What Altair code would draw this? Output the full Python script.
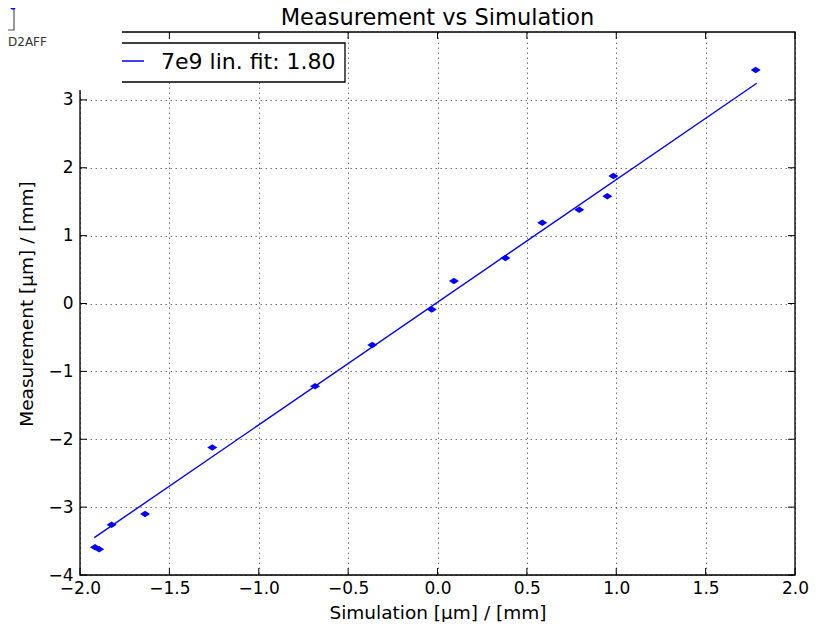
import altair as alt
import pandas as pd

# ---- data ----
sim = [-1.916, -1.893, -1.823, -1.636, -1.26, -0.685, -0.365, -0.032, 0.092, 0.38, 0.586, 0.793, 0.95, 0.984, 1.78]
meas = [-3.59, -3.62, -3.26, -3.10, -2.12, -1.22, -0.61, -0.09, 0.33, 0.67, 1.19, 1.38, 1.58, 1.88, 3.44]
fit_x = [-1.92, 1.786]
fit_y = [-3.45, 3.245]
x_ticks = [-2.0, -1.5, -1.0, -0.5, 0.0, 0.5, 1.0, 1.5, 2.0]
y_ticks = [-4, -3, -2, -1, 0, 1, 2, 3]
legend_label = "7e9 lin. fit: 1.80"
title_text = "Measurement vs Simulation"
x_title = "Simulation [μm] / [mm]"
y_title = "Measurement [μm] / [mm]"
corner_text = "D2AFF"

W, H = 715, 543
FONT = "DejaVu Sans"
BLUE = "#0000ff"
TICK = 7

xs = alt.Scale(domain=[-2, 2], nice=False, zero=False)
ys = alt.Scale(domain=[-4, 4], nice=False, zero=False)

xaxis = alt.Axis(values=x_ticks, format=".1f", labelFontSize=17, labelFont=FONT, labelColor="black",
                 labelPadding=5, labelFlush=False, labelOverlap=False, ticks=False, domain=False,
                 grid=True, gridDash=[1.5, 3.5],
                 gridColor="black", gridOpacity=0.55, gridWidth=1, title=x_title, titleFont=FONT,
                 titleFontSize=18.5, titleFontWeight="normal", titleColor="black", titlePadding=7)
yaxis = alt.Axis(values=y_ticks, format="d", labelFontSize=17, labelFont=FONT, labelColor="black",
                 labelPadding=7, labelFlush=False, labelOverlap=False, ticks=False, domain=False,
                 grid=True, gridDash=[1.5, 3.5],
                 gridColor="black", gridOpacity=0.55, gridWidth=1, title=y_title, titleFont=FONT,
                 titleFontSize=18.5, titleFontWeight="normal", titleColor="black", titlePadding=11)

X = alt.X("x:Q", scale=xs, axis=xaxis)
Y = alt.Y("y:Q", scale=ys, axis=yaxis)

pts_df = pd.DataFrame({"x": sim, "y": meas})
fit_df = pd.DataFrame({"x": fit_x, "y": fit_y})
xt_df = pd.DataFrame({"x": x_ticks})
yt_df = pd.DataFrame({"y": y_ticks})
one = pd.DataFrame({"a": [0]})

fit = alt.Chart(fit_df).mark_line(color=BLUE, strokeWidth=1.4).encode(x=X, y=Y)
pts = alt.Chart(pts_df).mark_point(
    shape="M-1,0L0,-0.65L1,0L0,0.65Z", filled=True, size=100, color=BLUE, opacity=1
).encode(x=X, y=Y)

xt_bottom = alt.Chart(xt_df).mark_rule(color="black", strokeWidth=1).encode(
    x=X, y=alt.value(H - TICK), y2=alt.value(H))
xt_top = alt.Chart(xt_df).mark_rule(color="black", strokeWidth=1).encode(
    x=X, y=alt.value(0), y2=alt.value(TICK))
yt_left = alt.Chart(yt_df).mark_rule(color="black", strokeWidth=1).encode(
    y=Y, x=alt.value(0), x2=alt.value(TICK))
yt_right = alt.Chart(yt_df).mark_rule(color="black", strokeWidth=1).encode(
    y=Y, x=alt.value(W - TICK), x2=alt.value(W))

frame = alt.Chart(one).mark_rect(fill=None, stroke="black", strokeWidth=1.3).encode(
    x=alt.value(0), x2=alt.value(W), y=alt.value(0), y2=alt.value(H))

title = alt.Chart(one).mark_text(text=title_text, font=FONT, fontSize=22.5, align="center",
                                 baseline="alphabetic", color="black").encode(
    x=alt.value(W / 2), y=alt.value(-7))

# legend box
leg_box = alt.Chart(one).mark_rect(fill="white", stroke="black", strokeWidth=1.3).encode(
    x=alt.value(8), x2=alt.value(265), y=alt.value(11), y2=alt.value(50))
leg_line = alt.Chart(one).mark_rule(color=BLUE, strokeWidth=1.4).encode(
    x=alt.value(22), x2=alt.value(64), y=alt.value(29))
leg_text = alt.Chart(one).mark_text(text=legend_label, font=FONT, fontSize=22, align="left",
                                    baseline="middle", color="black").encode(
    x=alt.value(81), y=alt.value(30))

# top-left overlay artifact
cover = alt.Chart(one).mark_rect(fill="white").encode(
    x=alt.value(-90), x2=alt.value(42), y=alt.value(-40), y2=alt.value(58))
small_box = alt.Chart(one).mark_rect(fill="white", stroke="#555555", strokeWidth=1.2).encode(
    x=alt.value(-100), x2=alt.value(-66), y=alt.value(-45), y2=alt.value(-2))
small_line = alt.Chart(one).mark_rule(color=BLUE, strokeWidth=1.5).encode(
    x=alt.value(-90), x2=alt.value(-67), y=alt.value(-25))
small_dot = alt.Chart(one).mark_point(shape="circle", filled=True, size=30, color=BLUE, opacity=1).encode(
    x=alt.value(-67), y=alt.value(-25))
small_text = alt.Chart(one).mark_text(text=corner_text, font=FONT, fontSize=12, align="left",
                                      baseline="middle", color="#333333").encode(
    x=alt.value(-72), y=alt.value(10))

chart = alt.layer(
    fit, pts, xt_bottom, xt_top, yt_left, yt_right, frame, title,
    leg_box, leg_line, leg_text,
    cover, small_box, small_line, small_dot, small_text
).properties(
    width=W, height=H,
    autosize=alt.AutoSizeParams(type="none"),
    padding={"left": 72, "top": 24, "right": 16, "bottom": 47},
).configure_view(strokeWidth=0).configure(background="white")

chart.save("out.html", embed_options={"renderer": "svg", "actions": False})
